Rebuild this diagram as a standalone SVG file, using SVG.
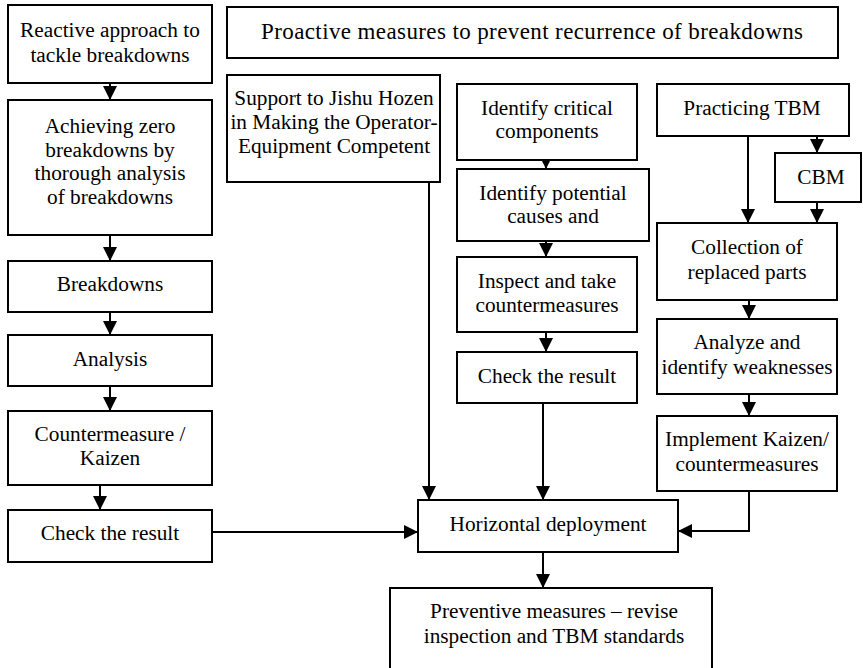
<svg xmlns="http://www.w3.org/2000/svg" width="863" height="668" viewBox="0 0 863 668">
<defs>
<marker id="ah" viewBox="0 0 14 14" refX="14" refY="7" markerWidth="14" markerHeight="14" markerUnits="userSpaceOnUse" orient="auto">
<path d="M0,0 L14,7 L0,14 Z" fill="#000"/>
</marker>
</defs>
<style>
rect{fill:#fff;stroke:#000;stroke-width:2}
text{font-family:"Liberation Serif","Times New Roman",serif;font-size:21.3px;fill:#000;text-anchor:middle}
.c{fill:none;stroke:#000;stroke-width:2;marker-end:url(#ah)}
</style>
<rect x="0" y="0" width="863" height="668" style="stroke:none"/>
<g id="connectors">
<path class="c" d="M110,83 V100"/>
<path class="c" d="M110,235 V261"/>
<path class="c" d="M110,312 V335"/>
<path class="c" d="M110,386 V411"/>
<path class="c" d="M100,485 V510"/>
<path class="c" d="M212,532 H418"/>
<path class="c" d="M429,182 V500"/>
<path class="c" d="M546,160 V169"/>
<path class="c" d="M546,241 V257"/>
<path class="c" d="M546,332 V352"/>
<path class="c" d="M543,403 V500"/>
<path class="c" d="M817,136 V153"/>
<path class="c" d="M748,136 V223"/>
<path class="c" d="M817,202 V223"/>
<path class="c" d="M749,300 V319"/>
<path class="c" d="M749,394 V416"/>
<path class="c" d="M749,491 V531 H678"/>
<path class="c" d="M543,552 V588"/>
</g>
<g id="n1"><rect x="8" y="5" width="204" height="78"/><text x="110" y="37">Reactive approach to</text><text x="110" y="62">tackle breakdowns</text></g>
<g id="n2"><rect x="8" y="100" width="204" height="135"/><text x="110" y="133">Achieving zero</text><text x="110" y="157">breakdowns by</text><text x="110" y="180">thorough analysis</text><text x="110" y="204">of  breakdowns</text></g>
<g id="n3"><rect x="8" y="261" width="204" height="51"/><text x="110" y="291">Breakdowns</text></g>
<g id="n4"><rect x="8" y="335" width="204" height="51"/><text x="110" y="366">Analysis</text></g>
<g id="n5"><rect x="8" y="411" width="204" height="74"/><text x="110" y="441">Countermeasure /</text><text x="110" y="465">Kaizen</text></g>
<g id="n6"><rect x="8" y="510" width="204" height="52"/><text x="110" y="540">Check the result</text></g>
<g id="n7"><rect x="227" y="7" width="611" height="51"/><text x="532" y="39" style="font-size:23px" textLength="542" lengthAdjust="spacing">Proactive measures to prevent recurrence of breakdowns</text></g>
<g id="n8"><rect x="227" y="75" width="213" height="107"/><text x="334" y="105">Support to Jishu Hozen</text><text x="334" y="129">in Making the Operator-</text><text x="334" y="153">Equipment Competent</text></g>
<g id="n9"><rect x="457" y="84" width="180" height="76"/><text x="547" y="115">Identify critical</text><text x="547" y="138">components</text></g>
<g id="n10"><rect x="457" y="169" width="192" height="72"/><text x="553" y="200">Identify potential</text><text x="553" y="223">causes and</text></g>
<g id="n11"><rect x="457" y="257" width="180" height="75"/><text x="547" y="288">Inspect and take</text><text x="547" y="312">countermeasures</text></g>
<g id="n12"><rect x="457" y="352" width="180" height="51"/><text x="547" y="383">Check the result</text></g>
<g id="n13"><rect x="657" y="84" width="192" height="52"/><text x="752" y="115">Practicing TBM</text></g>
<g id="n14"><rect x="775" y="153" width="86" height="49"/><text x="821" y="184">CBM</text></g>
<g id="n15"><rect x="657" y="223" width="180" height="77"/><text x="747" y="254">Collection of</text><text x="747" y="279">replaced parts</text></g>
<g id="n16"><rect x="657" y="319" width="180" height="75"/><text x="747" y="349">Analyze and</text><text x="747" y="374">identify weaknesses</text></g>
<g id="n17"><rect x="657" y="416" width="180" height="75"/><text x="747" y="446">Implement Kaizen/</text><text x="747" y="471">countermeasures</text></g>
<g id="n18"><rect x="418" y="500" width="260" height="52"/><text x="548" y="531">Horizontal deployment</text></g>
<g id="n19"><rect x="390" y="588" width="322" height="90"/><text x="554" y="618">Preventive measures – revise</text><text x="554" y="643">inspection and TBM standards</text></g>
</svg>
